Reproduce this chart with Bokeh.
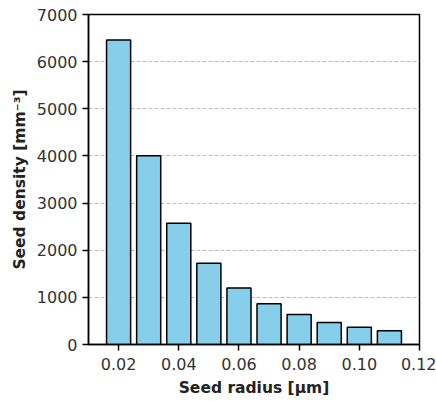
from bokeh.plotting import figure
from bokeh.models import FixedTicker, PrintfTickFormatter, Range1d
from bokeh.embed import file_html
from bokeh.resources import INLINE

radius = [0.02, 0.03, 0.04, 0.05, 0.06, 0.07, 0.08, 0.09, 0.10, 0.11]
density = [6460, 4005, 2570, 1725, 1200, 862, 635, 467, 368, 290]
x_ticks = [0.02, 0.04, 0.06, 0.08, 0.10, 0.12]
y_ticks = [0, 1000, 2000, 3000, 4000, 5000, 6000, 7000]

p = figure(width=436, height=401, output_backend="svg", toolbar_location=None,
           x_range=Range1d(0.01, 0.12), y_range=Range1d(0, 7000),
           min_border_left=88, min_border_right=17, min_border_top=14, min_border_bottom=57)

p.vbar(x=radius, top=density, width=0.008, fill_color="#87CEEB",
       line_color="black", line_width=1.5)

p.xaxis.ticker = FixedTicker(ticks=x_ticks)
p.yaxis.ticker = FixedTicker(ticks=y_ticks)
p.xaxis.formatter = PrintfTickFormatter(format="%.2f")
p.xaxis.minor_tick_line_color = None
p.yaxis.minor_tick_line_color = None

for ax in (p.xaxis, p.yaxis):
    ax.axis_line_color = "black"
    ax.axis_line_width = 1.5
    ax.major_tick_line_color = "black"
    ax.major_tick_line_width = 1.5
    ax.major_tick_out = 6
    ax.major_tick_in = 0
    ax.major_label_text_font = "DejaVu Sans"
    ax.major_label_text_font_size = "16px"
    ax.major_label_text_color = "#333333"
    ax.axis_label_text_font = "DejaVu Sans"
    ax.axis_label_text_font_size = "15.5px"
    ax.axis_label_text_font_style = "bold"
    ax.axis_label_text_color = "#222222"

p.xaxis.major_label_standoff = 7
p.yaxis.major_label_standoff = 5
p.xaxis.axis_label = "Seed radius [µm]"
p.yaxis.axis_label = "Seed density [mm⁻³]"
p.xaxis.axis_label_standoff = 6
p.yaxis.axis_label_standoff = 5

p.xgrid.grid_line_color = None
p.ygrid.grid_line_color = "#bdbdbd"
p.ygrid.grid_line_dash = "4 2"
p.ygrid.grid_line_width = 1

p.outline_line_color = "black"
p.outline_line_width = 1.5
p.background_fill_color = "white"
p.border_fill_color = "white"

open("out.html", "w").write(file_html(p, INLINE))
